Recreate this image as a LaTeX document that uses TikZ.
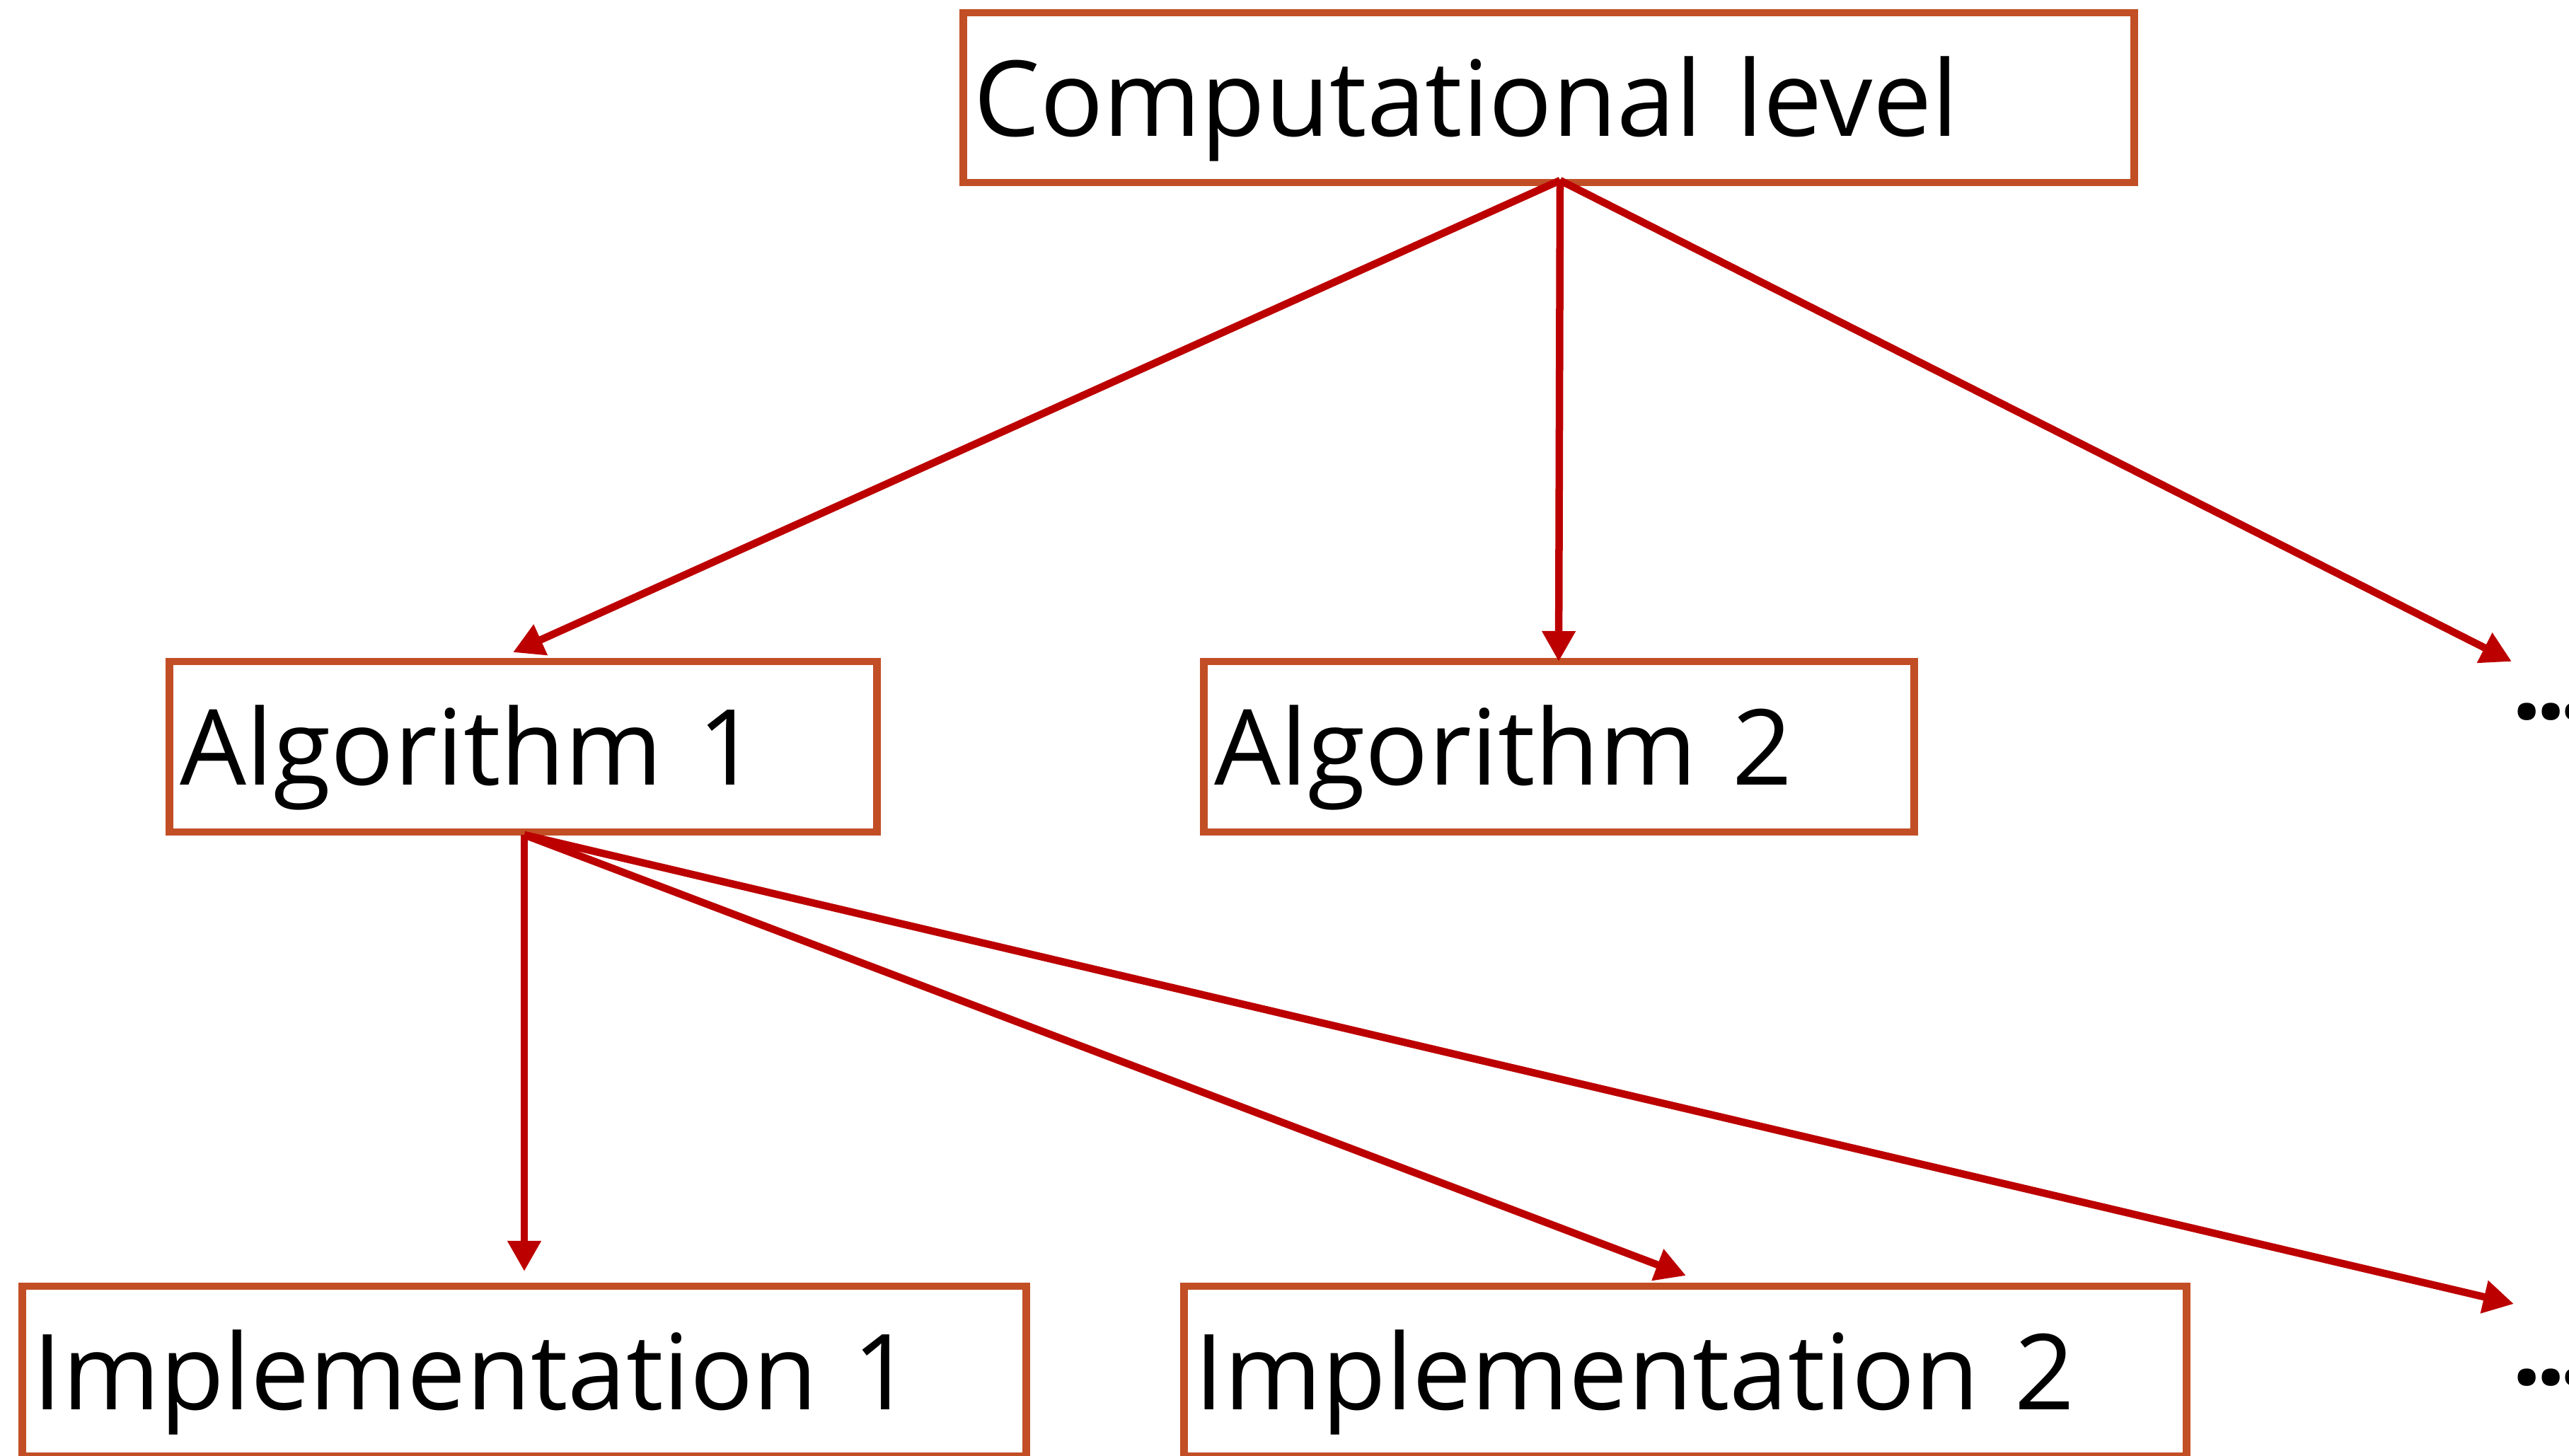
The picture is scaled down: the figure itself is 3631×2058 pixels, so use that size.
\documentclass[tikz,border=0pt]{standalone}
\usepackage{fontspec}
\setmainfont{Open Sans}
\usetikzlibrary{arrows.meta}

\definecolor{boxline}{RGB}{194,78,38}
\definecolor{linkred}{RGB}{188,0,0}

\newcommand{\moredots}{{\bfseries .\kern-0.09cm.\kern-0.09cm.}}

\tikzset{
  level/.style={draw=boxline, line width=0.105cm, rectangle, fill=white,
    inner xsep=0.15cm, inner ysep=0pt, align=left,
    text height=1.08cm, text depth=0pt,
    font=\fontsize{42.2pt}{50pt}\selectfont},
  link/.style={draw=linkred, line width=0.105cm,
    -{Triangle[width=0.45cm, length=0.43cm]}, linkred},
  more/.style={anchor=base west, inner sep=0pt,
    font=\fontsize{42.2pt}{50pt}\selectfont}
}

\begin{document}
\begin{tikzpicture}[x=0.01cm, y=-0.01cm]
  \useasboundingbox (0,0) rectangle (3631,2058);

  % the three levels
  \node[level, minimum width=16.54cm, minimum height=2.40cm, text width=16.24cm]
    (comp) at (2189,138) {Computational level};
  \node[level, minimum width=9.99cm, minimum height=2.41cm, text width=9.69cm]
    (alg1) at (739.5,1055.5) {Algorithm 1};
  \node[level, minimum width=10.03cm, minimum height=2.41cm, text width=9.73cm]
    (alg2) at (2203.5,1055.5) {Algorithm 2};
  \node[level, minimum width=14.18cm, minimum height=2.40cm, text width=13.88cm]
    (imp1) at (741,1938) {Implementation 1};
  \node[level, minimum width=14.16cm, minimum height=2.40cm, text width=13.86cm]
    (imp2) at (2382,1938) {Implementation 2};

  % further, unnamed alternatives
  \node[more] (moreA) at (3550,1016) {\moredots};
  \node[more] (moreI) at (3550,1957) {\moredots};

  % branching points and arrow ends
  \coordinate (compOut) at (2205,255);
  \coordinate (alg1Out) at (741,1180);
  \coordinate (toAlg1) at (725,922);
  \coordinate (toAlg2) at (2203,935);
  \coordinate (toMoreA) at (3550,935);
  \coordinate (toImp1) at (741,1797);
  \coordinate (toImp2) at (2383,1803);
  \coordinate (toMoreI) at (3553,1843);

  \draw[link] (compOut) -- (toAlg1);
  \draw[link] (compOut) -- (toAlg2);
  \draw[link] (compOut) -- (toMoreA);
  \draw[link] (alg1Out) -- (toImp1);
  \draw[link] (alg1Out) -- (toImp2);
  \draw[link] (alg1Out) -- (toMoreI);
\end{tikzpicture}
\end{document}
